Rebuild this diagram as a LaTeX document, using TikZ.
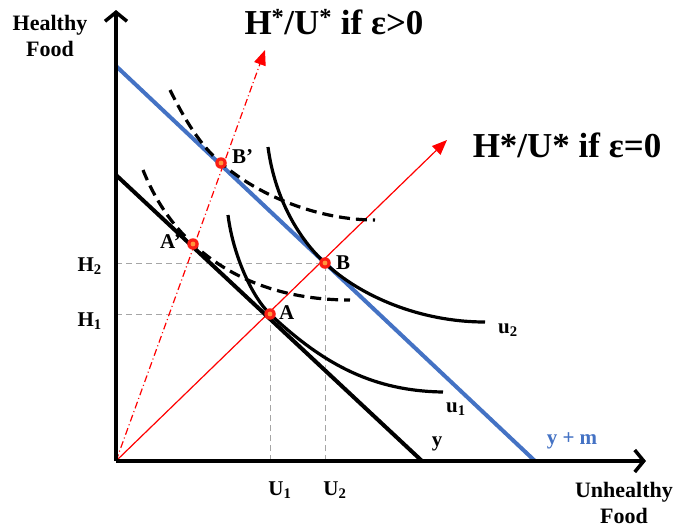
\documentclass[tikz,border=0pt]{standalone}
\usepackage{fontspec}
\setmainfont{Liberation Serif}
\usetikzlibrary{arrows.meta}
\definecolor{bl}{RGB}{68,114,196}
\definecolor{dotred}{RGB}{250,30,20}
\definecolor{dotcore}{RGB}{255,150,60}
\definecolor{guidegray}{RGB}{165,165,165}
\begin{document}
\begin{tikzpicture}[x=1pt,y=-1pt,
  axis/.style={line width=4.5pt,-{Straight Barb[length=9pt,width=22pt,line width=3.5pt]}},
  budget/.style={line width=4pt},
  icurve/.style={line width=3.2pt},
  dcurve/.style={line width=3.2pt,dash pattern=on 11pt off 6pt},
  guide/.style={guidegray,line width=1pt,dash pattern=on 6pt off 4pt},
  rayline/.style={red,line width=1.2pt,-{Triangle[length=15pt,width=12pt]}},
  raydash/.style={red,line width=1.2pt,dash pattern=on 7pt off 3pt on 1pt off 3pt,-{Triangle[length=15pt,width=12pt]}},
  pt/.style={circle,fill=dotred,minimum size=11.5pt,inner sep=0pt},
  lab/.style={font=\bfseries\fontsize{22}{26}\selectfont,align=center,inner sep=0pt},
  small/.style={font=\bfseries\fontsize{21}{24}\selectfont,inner sep=0pt},
  big/.style={font=\bfseries\fontsize{35}{40}\selectfont,inner sep=0pt}]
\useasboundingbox (0,0) rectangle (678,531);
\fill[white] (0,0) rectangle (678,531);
% coordinates
\coordinate (O) at (116,461);
\coordinate (ytip) at (116,10);
\coordinate (xtip) at (646,461);
\coordinate (bm0) at (116,66);
\coordinate (bm1) at (535,461);
\coordinate (b0) at (116,175);
\coordinate (b1) at (422,461);
\coordinate (tip1) at (447,140);
\coordinate (tip2) at (265,50);
% points
\coordinate (A) at (270,314);
\coordinate (B) at (325,263);
\coordinate (Ap) at (193,244);
\coordinate (Bp) at (221,163);
% guides
\draw[guide] (A -| O) -- (A);
\draw[guide] (A |- O) -- (A);
\draw[guide] (B -| O) -- (B);
\draw[guide] (B |- O) -- (B);
% rays
\draw[rayline] (O) -- (tip1);
\draw[raydash] (O) -- (tip2);
% budget lines
\draw[budget,bl] (bm0) -- (bm1);
\draw[budget] (b0) -- (b1);
% indifference curves
\draw[icurve] (228,215) .. controls (233,255) and (252,297) .. (A) .. controls (325,366) and (375,391) .. (443,392);
\draw[icurve] (268,147) .. controls (275,200) and (300,240) .. (B) .. controls (360,296) and (420,322) .. (485,322);
\draw[dcurve] (170,90) .. controls (185,120) and (200,145) .. (Bp) .. controls (260,197) and (320,220) .. (375,220);
\draw[dcurve] (143,170) .. controls (155,200) and (172,225) .. (Ap) .. controls (235,283) and (290,300) .. (350,300);
% axes
\draw[axis] (O) -- (ytip);
\draw[axis] (O) -- (xtip);
% dots
\foreach \p in {A,B,Ap,Bp}{
  \node[pt] (d\p) at (\p) {};
  \fill[dotcore] (\p) circle (2.4);
}
% labels
\node[lab] (hf) at (50,36) {Healthy\\Food};
\node[lab] (uf) at (624,503) {Unhealthy\\Food};
\node[big] (t1) at (334,22) {H\textsuperscript{*}/U\textsuperscript{*} if ε>0};
\node[big] (t2) at (567,145) {H*/U* if ε=0};
\node[small,anchor=west] (lA) at (279,313) {A};
\node[small,anchor=west] (lB) at (336,263) {B};
\node[small,anchor=east] (lAp) at (181,242) {A’};
\node[small,anchor=west] (lBp) at (232,157) {B’};
\node[small,anchor=east] (lH2) at (102,266) {H\textsubscript{2}};
\node[small,anchor=east] (lH1) at (102,321) {H\textsubscript{1}};
\node[small] (lU1) at (280,490) {U\textsubscript{1}};
\node[small] (lU2) at (335,490) {U\textsubscript{2}};
\node[small] (lu2) at (508,330) {u\textsubscript{2}};
\node[small] (lu1) at (456,409) {u\textsubscript{1}};
\node[small] (ly) at (437,444) {y};
\node[small,text=bl] (lym) at (572,441) {y + m};
\end{tikzpicture}
\end{document}
